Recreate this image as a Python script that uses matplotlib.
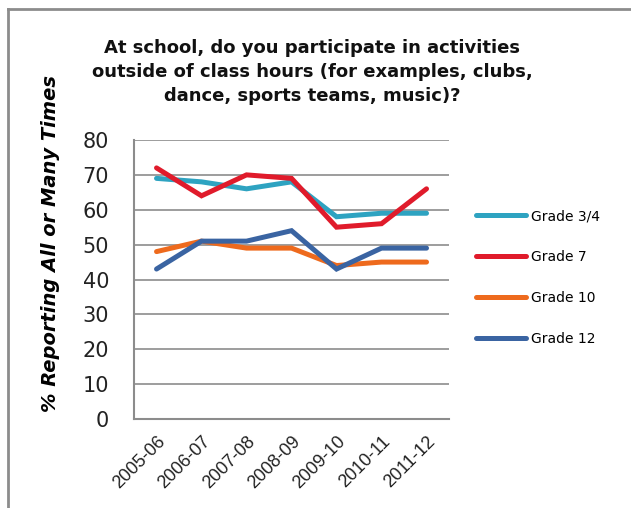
import matplotlib
matplotlib.use("Agg")
import matplotlib.pyplot as plt
from matplotlib.lines import Line2D

years = ["2005-06", "2006-07", "2007-08", "2008-09", "2009-10", "2010-11", "2011-12"]
grade34 = [69, 68, 66, 68, 58, 59, 59]
grade7 = [72, 64, 70, 69, 55, 56, 66]
grade10 = [48, 51, 49, 49, 44, 45, 45]
grade12 = [43, 51, 51, 54, 43, 49, 49]
series_names = ["Grade 3/4", "Grade 7", "Grade 10", "Grade 12"]
colors = ["#2EA3C1", "#E01B2B", "#EE6A1D", "#3A64A2"]
yticks = [0, 10, 20, 30, 40, 50, 60, 70, 80]

fig = plt.figure(figsize=(6.31, 5.08), dpi=100)
ax = fig.add_axes([0.2124, 0.1752, 0.4992, 0.5492])

x = list(range(len(years)))
handles = []
for name, vals, c in zip(series_names, [grade34, grade7, grade10, grade12], colors):
    h, = ax.plot(x, vals, color=c, lw=3.6, solid_capstyle="round", solid_joinstyle="miter", label=name, zorder=3)
    handles.append(h)

ax.set_xlim(-0.5, len(years) - 0.5)
ax.set_ylim(0, 80)
ax.set_yticks(yticks)
ax.set_yticklabels([str(v) for v in yticks], fontsize=15, family="DejaVu Sans", color="#222222")
ax.set_xticks(x)
ax.set_xticklabels(years, rotation=45, ha="right", rotation_mode="anchor", fontsize=13,
                   family="Liberation Sans", color="#222222")
ax.tick_params(axis="y", length=0, pad=18)
ax.tick_params(axis="x", length=0, pad=10)
ax.grid(axis="y", color="#8C8C8C", lw=1.2, zorder=0)
for s in ["top", "right"]:
    ax.spines[s].set_visible(False)
for s in ["left", "bottom"]:
    ax.spines[s].set_color("#8C8C8C")
    ax.spines[s].set_linewidth(1.5)

ax.set_ylabel("% Reporting All or Many Times", fontsize=14, fontweight="bold", style="italic",
              family="DejaVu Sans")
ax.yaxis.set_label_coords(-0.236, 0.63)

fig.text(0.495, 0.858, "At school, do you participate in activities\noutside of class hours (for examples, clubs,\ndance, sports teams, music)?",
         ha="center", va="center", fontsize=13, fontweight="bold", family="DejaVu Sans",
         linespacing=1.45, color="#111111")

leg = fig.legend(handles=handles, loc="upper left", bbox_to_anchor=(0.735, 0.613), frameon=False,
                 handlelength=3.6, labelspacing=1.95, handletextpad=0.35,
                 prop={"family": "DejaVu Sans", "size": 10})

# outer chart border (top and left)
fig.add_artist(Line2D([0.0125, 0.0125], [0, 0.982], transform=fig.transFigure, color="#8C8C8C", lw=2))
fig.add_artist(Line2D([0.0125, 1.0], [0.982, 0.982], transform=fig.transFigure, color="#8C8C8C", lw=2))

fig.savefig("out.png", dpi=100)
